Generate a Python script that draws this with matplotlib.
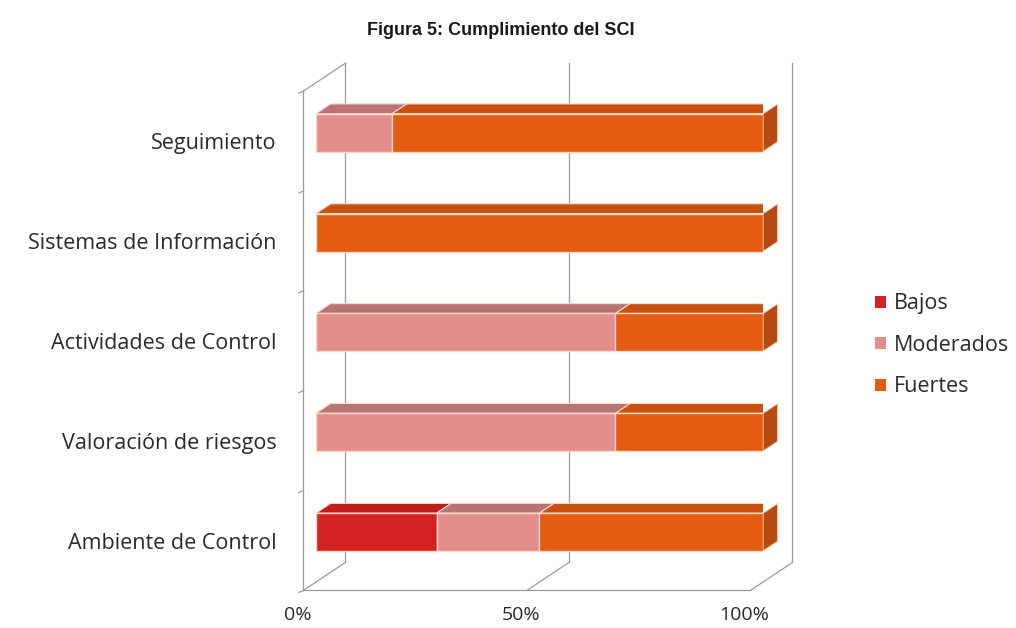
import numpy as np
import matplotlib
matplotlib.use("Agg")
import matplotlib.pyplot as plt
from matplotlib.patches import Patch

# =====================================================
# DATA
# =====================================================
categories = ["Ambiente de Control", "Valoración de riesgos",
              "Actividades de Control", "Sistemas de Información",
              "Seguimiento"]
series_names = ["Bajos", "Moderados", "Fuertes"]
bajos = [27, 0, 0, 0, 0]
moderados = [23, 67, 67, 0, 17]
fuertes = [50, 33, 33, 100, 83]
x_ticks = [0, 50, 100]
x_tick_labels = ["0%", "50%", "100%"]

# =====================================================
# STYLE
# =====================================================
FRONT = {"Bajos": "#d42222", "Moderados": "#e38d8c", "Fuertes": "#e45b12"}
TOP = {"Bajos": "#c01c1c", "Moderados": "#b97373", "Fuertes": "#c9500f"}
SIDE = "#b64a12"
EDGE = "#f7d9c8"
WALL = "#9a9a9a"

BAR_H = 0.38
DEPTH_X = 9.4      # data units per full wall depth
DEPTH_Y = 0.28
D_FRONT = -0.3
D_BAR = 0.35
D_BACK = 0.7

LABEL_FONT = ["Open Sans", "DejaVu Sans"]
LABEL_SIZE = 15.5


def shift(d):
    return d * DEPTH_X, d * DEPTH_Y


fig = plt.figure(figsize=(10.16, 6.28), dpi=100)
ax = fig.add_axes([0.311, 0.0732, 0.44, 0.795])
ax.set_xlim(0, 100)
ax.set_ylim(-0.5, 4.5)
ax.axis("off")

y = np.arange(len(categories))

# ----- walls -----
fx, fy = shift(D_FRONT)
bx, by = shift(D_BACK)
y0, y1 = -0.5, 4.5
wall_kw = dict(color=WALL, lw=0.9, clip_on=False, zorder=1)
# back wall gridlines
for v in x_ticks:
    ax.plot([v + bx, v + bx], [y0 + by, y1 + by], **wall_kw)
# left side wall
ax.plot([fx, fx], [y0 + fy, y1 + fy], **wall_kw)
ax.plot([fx, bx], [y1 + fy, y1 + by], **wall_kw)
for k in range(len(categories) + 1):
    yy = y0 + k + fy
    ax.plot([fx - 1.0, fx], [yy - 0.02, yy], **wall_kw)
# floor
ax.plot([fx, 100 + fx], [y0 + fy, y0 + fy], **wall_kw)
for v in x_ticks:
    ax.plot([v + fx, v + bx], [y0 + fy, y0 + by], **wall_kw)

# ----- bars -----
ox, oy = shift(D_BAR)
left = np.zeros(len(categories))
for name, vals in zip(series_names, [bajos, moderados, fuertes]):
    vals = np.array(vals, dtype=float)
    ax.barh(y, vals, left=left, height=BAR_H, color=FRONT[name],
            edgecolor=EDGE, linewidth=1.0, zorder=3)
    for yi, l, w in zip(y, left, vals):
        if w <= 0:
            continue
        r = l + w
        top = yi + BAR_H / 2
        ax.fill([l, r, r + ox, l + ox], [top, top, top + oy, top + oy],
                color=TOP[name], ec=EDGE, lw=0.8, zorder=2)
        if r >= 99.9:
            bot = yi - BAR_H / 2
            ax.fill([r, r, r + ox, r + ox], [bot, top, top + oy, bot + oy],
                    color=SIDE, ec=EDGE, lw=0.8, zorder=2, clip_on=False)
    left = left + vals

# ----- labels -----
for yi, cat in zip(y, categories):
    ax.text(-8.8, yi - 0.11, cat, ha="right", va="center",
            fontsize=LABEL_SIZE, family=LABEL_FONT, color="#2a2a2a")
for v, lab in zip(x_ticks, x_tick_labels):
    ax.text(v + fx - 1.3, -0.83, lab, ha="center", va="center",
            fontsize=14, family=LABEL_FONT, color="#2a2a2a")

fig.text(0.493, 0.952, "Figura 5: Cumplimiento del SCI", ha="center",
         va="center", fontsize=13, fontweight="bold",
         family=["Liberation Sans", "DejaVu Sans"], color="#1a1a1a")

handles = [Patch(facecolor=FRONT[n], edgecolor="none") for n in series_names]
fig.legend(handles, series_names, loc="center left",
           bbox_to_anchor=(0.842, 0.45), frameon=False,
           handlelength=0.5, handleheight=0.5, handletextpad=0.4,
           labelspacing=0.95, prop={"family": LABEL_FONT, "size": LABEL_SIZE},
           labelcolor="#2a2a2a")

fig.savefig("out.png", dpi=100)
